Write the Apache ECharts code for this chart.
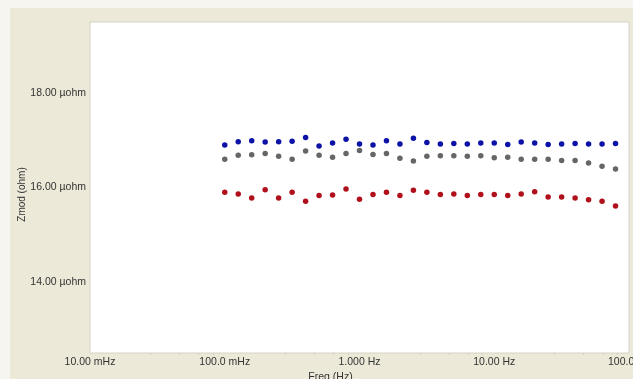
<!DOCTYPE html>
<html>
<head>
<meta charset="utf-8">
<script src="https://cdn.jsdelivr.net/npm/echarts@6/dist/echarts.min.js"></script>
<style>
html,body{margin:0;padding:0;background:#f6f5ef;}
#chart{width:633px;height:379px;}
</style>
</head>
<body>
<div id="chart"></div>
<script>
// Frequencies (Hz)
var freqs = [0.1, 0.1259, 0.1585, 0.1995, 0.2512, 0.3162, 0.3981, 0.5012, 0.6310, 0.7943,
             1.0, 1.259, 1.585, 1.995, 2.512, 3.162, 3.981, 5.012, 6.310, 7.943,
             10.0, 12.59, 15.85, 19.95, 25.12, 31.62, 39.81, 50.12, 63.10, 79.43];
// Zmod values (µohm)
var blueVals = [16.90, 16.97, 16.99, 16.96, 16.97, 16.98, 17.06, 16.88, 16.94, 17.02,
                16.92, 16.90, 16.99, 16.92, 17.04, 16.95, 16.92, 16.93, 16.92, 16.94,
                16.94, 16.91, 16.96, 16.94, 16.91, 16.92, 16.93, 16.92, 16.92, 16.93];
var greyVals = [16.60, 16.68, 16.69, 16.72, 16.66, 16.595, 16.77, 16.68, 16.64, 16.72,
                16.78, 16.70, 16.72, 16.62, 16.56, 16.66, 16.67, 16.67, 16.66, 16.67,
                16.63, 16.64, 16.595, 16.595, 16.60, 16.57, 16.57, 16.52, 16.45, 16.39];
var redVals = [15.90, 15.86, 15.78, 15.95, 15.78, 15.90, 15.71, 15.83, 15.84, 15.97,
               15.75, 15.85, 15.90, 15.83, 15.94, 15.90, 15.85, 15.86, 15.83, 15.85,
               15.85, 15.83, 15.86, 15.91, 15.80, 15.80, 15.78, 15.74, 15.71, 15.61];
// Tick labels
var xTickValues = [0.01, 0.1, 1, 10, 100];
var xTickLabels = ['10.00 mHz', '100.0 mHz', '1.000 Hz', '10.00 Hz', '100.0 Hz'];
var yTickValues = [14, 16, 18];
var yTickLabels = ['14.00 µohm', '16.00 µohm', '18.00 µohm'];

function pairs(vals){ return freqs.map(function(f,i){ return [f, vals[i]]; }); }
function xLabel(v){
  for (var i=0;i<xTickValues.length;i++){ if (Math.abs(Math.log10(v)-Math.log10(xTickValues[i]))<1e-6) return xTickLabels[i]; }
  return '';
}
function yLabel(v){
  for (var i=0;i<yTickValues.length;i++){ if (Math.abs(v-yTickValues[i])<1e-6) return yTickLabels[i]; }
  return '';
}

var chart = echarts.init(document.getElementById('chart'), null, {renderer:'canvas'});
var font = 'Liberation Sans, Arial, sans-serif';
chart.setOption({
  animation:false,
  backgroundColor:'#ECE9D8',
  graphic:[
    {type:'rect', shape:{x:0,y:0,width:10,height:379}, style:{fill:'#f6f5ef'}, silent:true, z:-10},
    {type:'rect', shape:{x:0,y:0,width:633,height:8}, style:{fill:'#f6f5ef'}, silent:true, z:-10}
  ],
  grid:{left:90, top:22, right:4, bottom:26, outerBoundsMode:'none', containLabel:false,
        show:true, backgroundColor:'#ffffff', borderColor:'#d6d3c4', borderWidth:1},
  xAxis:{
    type:'log', logBase:10, min:0.01, max:100,
    name:'Freq (Hz)', nameLocation:'middle', nameGap:19, nameMoveOverlap:false,
    nameTextStyle:{fontFamily:font, fontSize:10.5, color:'#333', padding:[0,58,0,0]},
    axisLine:{show:false},
    axisTick:{show:false},
    minorTick:{show:true, splitNumber:5, length:2, lineStyle:{color:'#cfcfc8'}},
    splitLine:{show:false},
    axisLabel:{fontFamily:font, fontSize:10.5, color:'#333', margin:4, formatter:xLabel, showMaxLabel:true, showMinLabel:true}
  },
  yAxis:{
    type:'value', min:12.5, max:19.5, interval:0.5,
    name:'Zmod (ohm)', nameLocation:'middle', nameGap:63, nameRotate:90, nameMoveOverlap:false,
    nameTextStyle:{fontFamily:font, fontSize:10, color:'#333', padding:[0,0,0,-14]},
    axisLine:{show:false},
    axisTick:{show:false},
    splitLine:{show:false},
    axisLabel:{fontFamily:font, fontSize:10.5, color:'#333', margin:4, formatter:yLabel}
  },
  series:[
    {type:'scatter', name:'blue', data:pairs(blueVals), symbolSize:5.5, itemStyle:{color:'#0c12a6', opacity:1}},
    {type:'scatter', name:'grey', data:pairs(greyVals), symbolSize:5.5, itemStyle:{color:'#666666', opacity:1}},
    {type:'scatter', name:'red', data:pairs(redVals), symbolSize:5.5, itemStyle:{color:'#b0101c', opacity:1}}
  ]
});
</script>
</body>
</html>
